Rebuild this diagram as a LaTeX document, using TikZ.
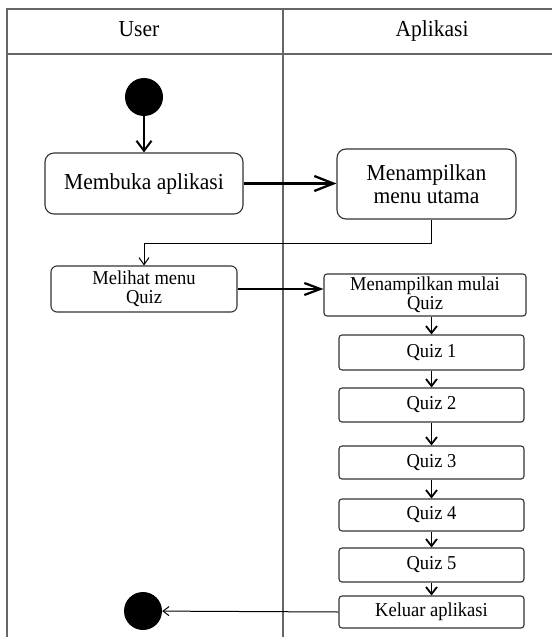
\documentclass[tikz,border=0pt]{standalone}
\usepackage{fontspec}
\setmainfont{Liberation Serif}
\newfontfamily\tallserif[FakeStretch=0.94]{Liberation Serif}
\usetikzlibrary{arrows.meta}
\begin{document}
\begin{tikzpicture}[x=1pt,y=-1pt,
  frame/.style={draw=black!60, line width=1.1pt},
  act/.style={draw=black!80, line width=1.1pt, rounded corners=#1, inner sep=0pt, align=center},
  act/.default=3pt,
  big/.style={font=\tallserif\fontsize{22.9}{23}\selectfont},
  small/.style={font=\tallserif\fontsize{19.7}{18.5}\selectfont},
  header/.style={font=\tallserif\fontsize{22.9}{23}\selectfont, anchor=base},
  solid/.style={circle, fill=black, draw=none, minimum size=38pt, inner sep=0pt},
  bigarr/.style={line width=2.3pt, -{Straight Barb[length=19pt, width=15pt, line width=2.3pt]}},
  midarr/.style={line width=2.2pt, -{Straight Barb[length=16pt, width=12pt, line width=2.2pt]}},
  downarr/.style={line width=2pt, -{Straight Barb[length=10pt, width=15pt, line width=2pt]}},
  qarr/.style={line width=1.8pt, -{Straight Barb[length=7pt, width=11pt, line width=1.8pt]}},
  thinarr/.style={line width=1pt, -{Straight Barb[length=7pt, width=10pt, line width=1pt]}},
  endarr/.style={line width=1pt, -{Straight Barb[length=6pt, width=9pt, line width=1pt]}}
]
\useasboundingbox (0,0) rectangle (552,637);
% frame
\draw[frame] (552,9) -- (7,9) -- (7,637);
\draw[frame] (7,54) -- (552,54);
\draw[frame] (283,9) -- (283,637);
\node[header] (huser) at (139,36) {User};
\node[header] (happ) at (432,36) {Aplikasi};
% nodes
\node[solid] (start) at (144,97) {};
\node[act=9pt, big, minimum width=198pt, minimum height=61pt] (membuka) at (144,183.5) {Membuka aplikasi};
\node[act=9pt, big, minimum width=179pt, minimum height=70pt] (menu) at (426.5,184) {Menampilkan\\menu utama};
\node[act=6pt, small, minimum width=186pt, minimum height=46pt] (melihat) at (144,289) {Melihat menu\\Quiz};
\node[act=3pt, small, minimum width=202pt, minimum height=42pt] (mulai) at (425,295) {Menampilkan mulai\\Quiz};
\node[act, small, minimum width=185pt, minimum height=35pt] (q1) at (431.5,352.5) {Quiz 1};
\node[act, small, minimum width=185pt, minimum height=34pt] (q2) at (431.5,405) {Quiz 2};
\node[act, small, minimum width=185pt, minimum height=33pt] (q3) at (431.5,462.5) {Quiz 3};
\node[act, small, minimum width=185pt, minimum height=32pt] (q4) at (431.5,515) {Quiz 4};
\node[act, small, minimum width=185pt, minimum height=34pt] (q5) at (431.5,565) {Quiz 5};
\node[act, small, minimum width=185pt, minimum height=32pt] (keluar) at (431.5,612) {Keluar aplikasi};
\node[solid] (end) at (143,611) {};
\coordinate (bend) at (431,243);
% connectors
\draw[downarr] (start) -- (membuka);
\draw[bigarr] (membuka.east) -- (membuka.east -| menu.west);
\draw[thinarr] (bend |- menu.south) -- (bend) -| (melihat.north);
\draw[midarr] (melihat.east) -- (melihat.east -| mulai.west);
\draw[qarr] (q1.north |- mulai.south) -- (q1.north);
\draw[qarr] (q1) -- (q2);
\draw[qarr] (q2) -- (q3);
\draw[qarr] (q3) -- (q4);
\draw[qarr] (q4) -- (q5);
\draw[qarr] (q5) -- (keluar);
\draw[endarr] (keluar.west) -- (end);
\end{tikzpicture}
\end{document}
